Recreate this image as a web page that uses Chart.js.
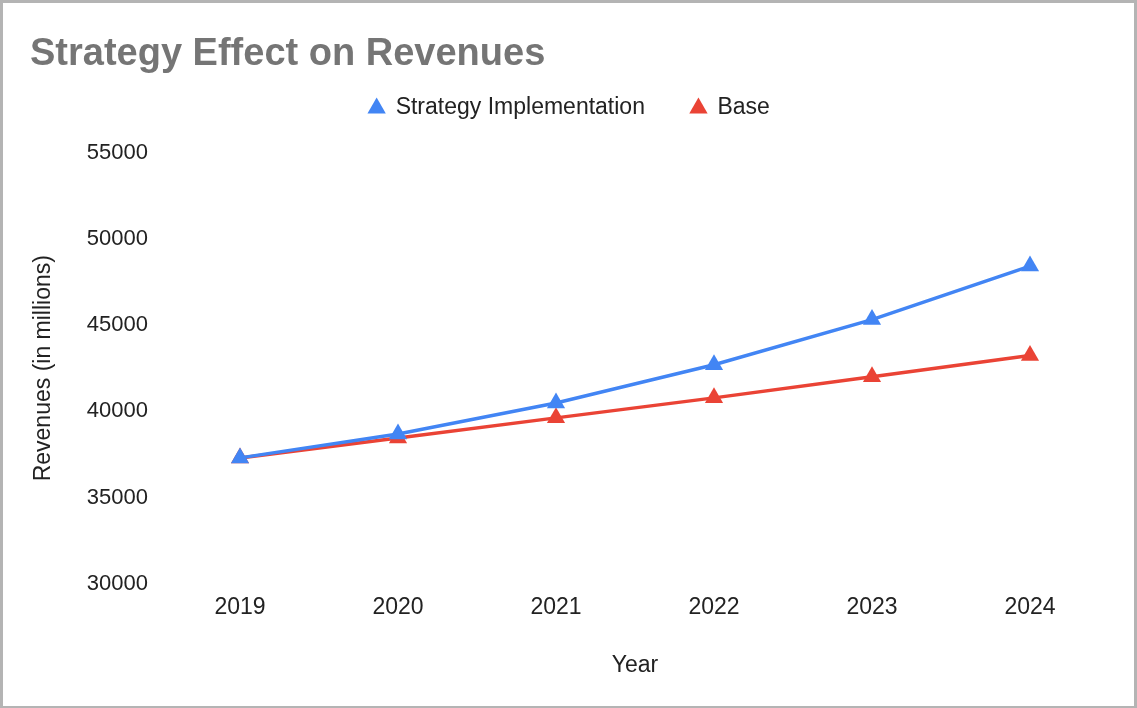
<!DOCTYPE html>
<html>
<head>
<meta charset="utf-8">
<title>Strategy Effect on Revenues</title>
<script src="https://cdn.jsdelivr.net/npm/chart.js@4/dist/chart.umd.min.js"></script>
<style>
    html, body { margin: 0; padding: 0; background: #fff; }
    .frame {
        width: 1131px;
        height: 703px;
        border-style: solid;
        border-color: #b4b4b4;
        border-width: 3px 3px 2px 3px;
        position: relative;
    }
    canvas { display: block; }
</style>
</head>
<body>
<div class="frame">
    <canvas id="revenueChart" width="1131" height="703"></canvas>
</div>
<script>
// Revenue forecast, in millions
const years = ['2019', '2020', '2021', '2022', '2023', '2024'];
const strategyRevenue = [37300, 38680, 40480, 42700, 45320, 48420];
const baseRevenue = [37300, 38450, 39620, 40780, 42000, 43230];
const yTicks = [30000, 35000, 40000, 45000, 50000, 55000];

const FONT = "Arial, 'Liberation Sans', Helvetica, sans-serif";
const BLUE = '#4285f4';
const RED = '#ea4335';

// Keep a fixed gap between the legend row and the plot
const legendHeightPlugin = {
    id: 'legendHeight',
    beforeLayout: function(chart) {
        const lg = chart.legend;
        if (lg && !lg._fixedHeight) {
            const fit = lg.fit;
            lg.fit = function() {
                fit.call(this);
                this.height = 102;
            };
            lg._fixedHeight = true;
        }
    }
};

const ctx = document.getElementById('revenueChart').getContext('2d');

new Chart(ctx, {
    type: 'line',
    data: {
        labels: years,
        datasets: [{
            label: 'Strategy Implementation',
            data: strategyRevenue,
            borderColor: BLUE,
            backgroundColor: BLUE,
            borderWidth: 3.5,
            pointStyle: 'triangle',
            pointRadius: 10.5,
            pointHoverRadius: 10.5,
            pointBorderWidth: 0,
            tension: 0
        }, {
            label: 'Base',
            data: baseRevenue,
            borderColor: RED,
            backgroundColor: RED,
            borderWidth: 3.5,
            pointStyle: 'triangle',
            pointRadius: 10.5,
            pointHoverRadius: 10.5,
            pointBorderWidth: 0,
            tension: 0
        }]
    },
    plugins: [legendHeightPlugin],
    options: {
        responsive: false,
        animation: false,
        layout: {
            padding: { top: 10, left: 27, right: 25, bottom: 23 }
        },
        plugins: {
            title: {
                display: true,
                text: 'Strategy Effect on Revenues',
                align: 'start',
                color: '#757575',
                font: { family: FONT, size: 38, weight: 'bold' },
                padding: { top: 19, bottom: -27 }
            },
            legend: {
                display: true,
                position: 'top',
                labels: {
                    usePointStyle: true,
                    pointStyle: 'triangle',
                    boxWidth: 15,
                    boxHeight: 15,
                    color: '#222',
                    font: { family: FONT, size: 23 },
                    padding: 46
                }
            },
            tooltip: { enabled: false }
        },
        scales: {
            x: {
                offset: true,
                grid: { display: false, drawTicks: false },
                border: { display: false },
                ticks: {
                    color: '#222',
                    font: { family: FONT, size: 23 },
                    padding: 10,
                    maxRotation: 0
                },
                title: {
                    display: true,
                    text: 'Year',
                    color: '#222',
                    font: { family: FONT, size: 23 },
                    padding: { top: 20, bottom: 4 }
                }
            },
            y: {
                min: yTicks[0],
                max: yTicks[yTicks.length - 1],
                afterBuildTicks: function(scale) {
                    scale.ticks = yTicks.map(v => ({ value: v }));
                },
                afterFit: function(scale) {
                    scale.width = 131;
                },
                grid: { display: false, drawTicks: false },
                border: { display: false },
                ticks: {
                    color: '#222',
                    font: { family: FONT, size: 22 },
                    padding: 13,
                    callback: function(value) { return String(value); }
                },
                title: {
                    display: true,
                    text: 'Revenues (in millions)',
                    color: '#222',
                    font: { family: FONT, size: 23 },
                    padding: { top: 0, bottom: 0 }
                }
            }
        }
    }
});
</script>
</body>
</html>
